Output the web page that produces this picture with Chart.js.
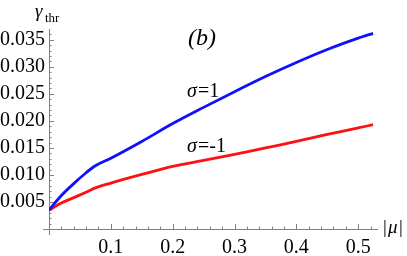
<!DOCTYPE html>
<html>
<head>
<meta charset="utf-8">
<script src="https://cdn.jsdelivr.net/npm/chart.js@4/dist/chart.umd.min.js"></script>
<style>
  html, body { margin: 0; padding: 0; background: #fff; }
  #wrap { width: 407px; height: 256px; }
</style>
</head>
<body>
<div id="wrap"><canvas id="chart" width="407" height="256"></canvas></div>
<script>
// values
const mu = [0, 0.02, 0.04, 0.06, 0.075, 0.1, 0.15, 0.2, 0.25, 0.3, 0.35, 0.4, 0.45, 0.5, 0.524];
const gammaSigmaPlus = [0.0035, 0.0062, 0.0084, 0.0104, 0.0117, 0.0131, 0.0162, 0.0195, 0.0225, 0.0254, 0.0282, 0.0308, 0.0332, 0.0353, 0.0362];
const gammaSigmaMinus = [0.0035, 0.0048, 0.0058, 0.0068, 0.0076, 0.0085, 0.0101, 0.0116, 0.0127, 0.0138, 0.0150, 0.0162, 0.0175, 0.0187, 0.0193];
const xTicks = [0.1, 0.2, 0.3, 0.4, 0.5];
const yTicks = [0.005, 0.010, 0.015, 0.020, 0.025, 0.030, 0.035];

const serif = "'Liberation Serif'";
const axisColor = '#808080';
Chart.defaults.font.family = serif;

// Mathematica-like axes: lines through the origin with inward ticks
const axesPlugin = {
    id: 'axes',
    beforeDatasetsDraw(chart) {
        const ctx = chart.ctx;
        const xs = chart.scales.x;
        const ys = chart.scales.y;
        const x0 = xs.getPixelForValue(0);
        const y0 = ys.getPixelForValue(0);
        ctx.save();
        ctx.strokeStyle = axisColor;
        ctx.lineWidth = 1;
        ctx.beginPath();
        ctx.moveTo(x0 - 6, y0 + 0.5);
        ctx.lineTo(xs.right, y0 + 0.5);
        ctx.moveTo(x0 + 0.5, y0 + 6);
        ctx.lineTo(x0 + 0.5, ys.top);
        // x ticks, minor every 0.02
        for (let i = 1; i <= 26; i++) {
            const px = Math.round(xs.getPixelForValue(i * 0.02)) + 0.5;
            const len = i % 5 === 0 ? 5 : 2.5;
            ctx.moveTo(px, y0);
            ctx.lineTo(px, y0 - len);
        }
        // y ticks, minor every 0.001
        for (let i = 1; i <= 36; i++) {
            const py = Math.round(ys.getPixelForValue(i * 0.001)) + 0.5;
            const len = i % 5 === 0 ? 5 : 2.5;
            ctx.moveTo(x0, py);
            ctx.lineTo(x0 + len, py);
        }
        ctx.stroke();
        ctx.restore();
    },
    afterDraw(chart) {
        const ctx = chart.ctx;
        ctx.save();
        ctx.fillStyle = '#000';
        ctx.textBaseline = 'alphabetic';
        ctx.textAlign = 'left';
        // axis labels
        ctx.font = 'italic 19px ' + serif;
        ctx.fillText('γ', 35, 17);
        ctx.font = '13px ' + serif;
        ctx.fillText('thr', 45, 22);
        ctx.font = '19px ' + serif;
        ctx.fillText('|', 383, 233);
        ctx.font = 'italic 19px ' + serif;
        ctx.fillText('μ', 388, 233);
        ctx.font = '19px ' + serif;
        ctx.fillText('|', 399, 233);
        // panel label
        ctx.font = 'italic 24px ' + serif;
        ctx.fillText('(b)', 188, 45);
        // curve labels
        ctx.font = 'italic 20px ' + serif;
        ctx.fillText('σ', 187, 97);
        ctx.fillText('σ', 187, 152);
        ctx.font = '20px ' + serif;
        ctx.fillText('=1', 198, 97);
        ctx.fillText('=-1', 198, 152);
        ctx.restore();
    }
};

new Chart(document.getElementById('chart').getContext('2d'), {
    type: 'line',
    data: {
        datasets: [
            {
                label: 'σ=1',
                data: mu.map((m, i) => ({ x: m, y: gammaSigmaPlus[i] })),
                borderColor: '#1010ff',
                borderWidth: 2.8,
                pointRadius: 0,
                cubicInterpolationMode: 'monotone'
            },
            {
                label: 'σ=-1',
                data: mu.map((m, i) => ({ x: m, y: gammaSigmaMinus[i] })),
                borderColor: '#ff1010',
                borderWidth: 2.8,
                pointRadius: 0,
                cubicInterpolationMode: 'monotone'
            }
        ]
    },
    options: {
        responsive: false,
        animation: false,
        layout: { padding: { top: 29, right: 29, left: 0, bottom: 0 } },
        plugins: { legend: { display: false }, tooltip: { enabled: false } },
        scales: {
            x: {
                type: 'linear',
                min: 0,
                max: 0.532,
                grid: { display: false, drawTicks: false },
                border: { display: false },
                afterBuildTicks: s => { s.ticks = xTicks.map(v => ({ value: v })); },
                afterFit: s => { s.height = 27; },
                ticks: {
                    color: '#000',
                    padding: 7,
                    maxRotation: 0,
                    autoSkip: false,
                    font: { family: serif, size: 20 },
                    callback: v => v.toFixed(1)
                }
            },
            y: {
                min: 0,
                max: 0.037,
                grid: { display: false, drawTicks: false },
                border: { display: false },
                afterBuildTicks: s => { s.ticks = yTicks.map(v => ({ value: v })); },
                afterFit: s => { s.width = 49; },
                ticks: {
                    color: '#000',
                    padding: 4,
                    autoSkip: false,
                    font: { family: serif, size: 20 },
                    callback: v => v.toFixed(3)
                }
            }
        }
    },
    plugins: [axesPlugin]
});
</script>
</body>
</html>
